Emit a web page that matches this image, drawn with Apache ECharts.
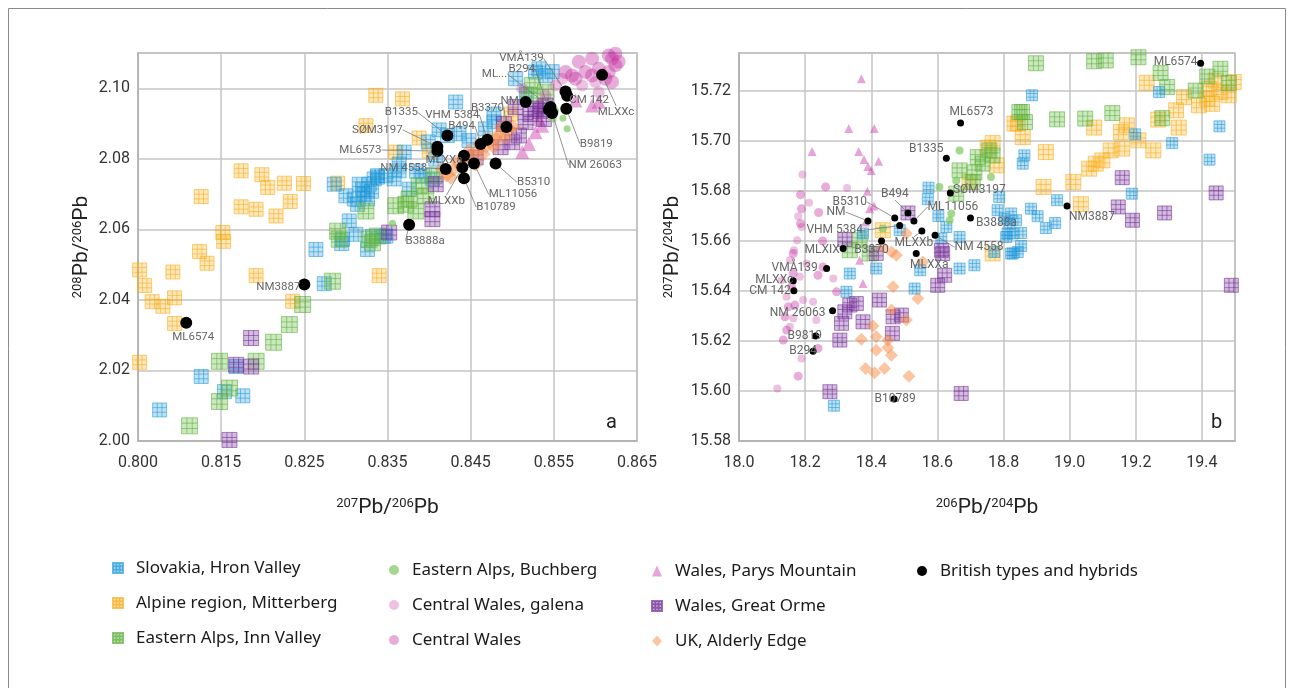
<!DOCTYPE html>
<html>
<head>
<meta charset="utf-8">
<script src="https://cdn.jsdelivr.net/npm/echarts@6/dist/echarts.min.js"></script>
<style>
html, body { margin: 0; background: #fff; }
#chart { width: 1294px; height: 688px; }
</style>
</head>
<body>
<div id="chart"></div>
<script>
// ---- panel a : 208Pb/206Pb vs 207Pb/206Pb ----
var slovakiaA = [[0.8286,2.0728],[0.8300,2.0695],[0.8320,2.0714],[0.8328,2.0728],[0.8334,2.0743],[0.8322,2.0700],[0.8338,2.0748],[0.8310,2.0686],[0.8316,2.0728],[0.8326,2.0686],[0.8331,2.0708],[0.8314,2.0671],[0.8338,2.0752],[0.8304,2.0624],[0.8296,2.0572],[0.8326,2.0543],[0.8264,2.0543],[0.8295,2.0560],[0.8274,2.0446],[0.8126,2.0183],[0.8154,2.0140],[0.8176,2.0128],[0.8076,2.0088],[0.8168,2.0211],[0.8348,2.0581],[0.8348,2.0752],[0.8364,2.0766],[0.8392,2.0752],[0.8408,2.0799],[0.8432,2.0961],[0.8478,2.0927],[0.8478,2.0905],[0.8436,2.0871],[0.8422,2.0866],[0.8448,2.0852],[0.8468,2.0885],[0.8504,2.1027],[0.8528,2.1046],[0.8532,2.1055],[0.8548,2.1047],[0.8540,2.1036],[0.8517,2.0984],[0.8399,2.0848],[0.8412,2.0882],[0.8370,2.0819],[0.8364,2.0785],[0.8385,2.0765],[0.8358,2.0743],[0.8404,2.0743],[0.8376,2.0714],[0.8312,2.0586],[0.8345,2.0580],[0.8332,2.0580]];
var mitterbergA = [[0.8336,2.0980],[0.8324,2.0894],[0.8174,2.0766],[0.8199,2.0755],[0.8206,2.0719],[0.8226,2.0731],[0.8249,2.0730],[0.8290,2.0731],[0.8126,2.0693],[0.8174,2.0664],[0.8192,2.0657],[0.8216,2.0638],[0.8233,2.0679],[0.8152,2.0591],[0.8153,2.0566],[0.8124,2.0537],[0.8133,2.0504],[0.8052,2.0485],[0.8092,2.0479],[0.8192,2.0469],[0.8058,2.0441],[0.8067,2.0395],[0.8080,2.0382],[0.8094,2.0406],[0.8094,2.0333],[0.8052,2.0223],[0.8236,2.0396],[0.8340,2.0469],[0.8368,2.0970],[0.8388,2.0859],[0.8360,2.0819],[0.8498,2.0927],[0.8400,2.0823]];
var innValleyA = [[0.8324,2.0652],[0.8328,2.0572],[0.8338,2.0581],[0.8284,2.0453],[0.8248,2.0387],[0.8232,2.0330],[0.8213,2.0280],[0.8148,2.0226],[0.8192,2.0226],[0.8160,2.0150],[0.8148,2.0112],[0.8112,2.0043],[0.8332,2.0562],[0.8360,2.0667],[0.8372,2.0671],[0.8384,2.0652],[0.8396,2.0695],[0.8388,2.0723],[0.8406,2.0752],[0.8376,2.0686],[0.8524,2.1008],[0.8540,2.0989],[0.8520,2.0980],[0.8292,2.0572],[0.8290,2.0595]];
var buchbergA = [[0.8549,2.0913],[0.8561,2.0915],[0.8566,2.0885],[0.8552,2.0937],[0.8356,2.0617]];
var galenaA = [[0.8512,2.0999],[0.8532,2.0951],[0.8540,2.0980],[0.8552,2.1008],[0.8560,2.1027],[0.8604,2.0989],[0.8584,2.1008],[0.8600,2.1018]];
var centralWalesA = [[0.8580,2.1075],[0.8596,2.1084],[0.8616,2.1093],[0.8620,2.1084],[0.8604,2.1055],[0.8624,2.1065],[0.8588,2.1046],[0.8572,2.1036],[0.8612,2.1027],[0.8576,2.1027],[0.8616,2.1046],[0.8596,2.1036],[0.8564,2.1046],[0.8620,2.1018],[0.8628,2.1075],[0.8624,2.1098]];
var parysA = [[0.8596,2.0951],[0.8576,2.0965],[0.8536,2.0894],[0.8528,2.0875],[0.8512,2.0819],[0.8520,2.0842],[0.8532,2.0913],[0.8604,2.0962]];
var greatOrmeA = [[0.8528,2.0942],[0.8516,2.0904],[0.8508,2.0866],[0.8500,2.0847],[0.8486,2.0833],[0.8522,2.0927],[0.8540,2.0951],[0.8504,2.0947],[0.8408,2.0728],[0.8404,2.0657],[0.8404,2.0629],[0.8352,2.0591],[0.8456,2.0804],[0.8186,2.0292],[0.8168,2.0216],[0.8186,2.0211],[0.8160,2.0003],[0.8534,2.0936],[0.8538,2.0913],[0.8490,2.0899]];
var alderlyA = [[0.8421,2.0754],[0.8430,2.0771],[0.8426,2.0748],[0.8439,2.0777],[0.8442,2.0799],[0.8451,2.0799],[0.8448,2.0822],[0.8458,2.0822],[0.8460,2.0842],[0.8469,2.0836],[0.8472,2.0856],[0.8481,2.0856],[0.8484,2.0871],[0.8492,2.0862],[0.8496,2.0885],[0.8501,2.0890],[0.8434,2.0791],[0.8465,2.0814],[0.8478,2.0834],[0.8456,2.0785],[0.8416,2.0771],[0.8487,2.0890]];

// ---- panel b : 207Pb/204Pb vs 206Pb/204Pb ----
var slovakiaB = [[18.573,15.6812],[18.571,15.6766],[18.603,15.6699],[18.627,15.6655],[18.612,15.6609],[18.787,15.6775],[18.782,15.6722],[18.803,15.6689],[18.818,15.6669],[18.828,15.6629],[18.808,15.6615],[18.838,15.6682],[18.823,15.6549],[18.843,15.6555],[18.772,15.6555],[18.667,15.6615],[18.486,15.6642],[18.375,15.6629],[18.886,15.7181],[18.863,15.6941],[18.858,15.6908],[18.823,15.6709],[18.883,15.6728],[18.903,15.6698],[18.928,15.6651],[18.956,15.6671],[18.962,15.6762],[18.853,15.6631],[18.812,15.6629],[18.828,15.6549],[18.853,15.6579],[19.188,15.6788],[19.198,15.7025],[19.310,15.6990],[19.270,15.7194],[19.423,15.6924],[19.453,15.7057],[18.335,15.6469],[18.325,15.6396],[18.531,15.6409],[18.667,15.6489],[18.712,15.6502],[18.287,15.5941],[18.548,15.6482],[18.415,15.6489]];
var mitterbergB = [[18.843,15.7068],[18.858,15.7014],[18.928,15.6954],[18.921,15.6815],[19.011,15.6835],[19.034,15.6746],[19.059,15.6888],[19.079,15.6908],[19.099,15.6921],[19.124,15.6961],[19.159,15.6968],[19.074,15.7052],[19.155,15.7034],[19.173,15.7061],[19.208,15.7001],[19.253,15.6961],[19.268,15.7084],[19.322,15.7121],[19.330,15.7052],[19.346,15.7174],[19.233,15.7231],[19.416,15.7167],[19.421,15.7207],[19.456,15.7194],[19.496,15.7234],[19.431,15.7147],[19.441,15.7240],[18.767,15.6990],[18.752,15.6972],[18.779,15.6901],[18.833,15.7068],[18.697,15.6835],[18.435,15.6642],[18.767,15.6549],[19.391,15.7141],[19.481,15.7181]];
var innValleyB = [[18.898,15.7309],[19.074,15.7317],[19.109,15.7320],[19.208,15.7333],[19.275,15.7270],[19.295,15.7214],[19.381,15.7200],[19.416,15.7256],[19.456,15.7287],[19.481,15.7230],[18.856,15.7114],[18.865,15.7074],[18.962,15.7085],[19.047,15.7088],[19.129,15.7110],[19.280,15.7090],[18.848,15.7114],[18.722,15.6934],[18.767,15.6941],[18.667,15.6881],[18.657,15.6788],[18.707,15.6835],[18.737,15.6908],[18.365,15.6602],[18.335,15.6562],[18.395,15.6549],[18.757,15.6961],[18.712,15.6873]];
var buchbergB = [[18.667,15.6961],[18.606,15.6815],[18.657,15.6841],[18.642,15.6709],[18.762,15.6855],[18.435,15.6649],[18.637,15.6682]];
var galenaB = [[18.192,15.6865],[18.327,15.6811],[18.212,15.6752],[18.179,15.6698],[18.189,15.6655],[18.176,15.6602],[18.166,15.6562],[18.154,15.6522],[18.184,15.6456],[18.194,15.6363],[18.154,15.6256],[18.189,15.6130],[18.116,15.6010],[18.285,15.6449],[18.224,15.6356],[18.144,15.6376],[18.234,15.6283],[18.204,15.6509],[18.164,15.6290],[18.129,15.6442]];
var centralWalesB = [[18.262,15.6815],[18.186,15.6784],[18.189,15.6728],[18.186,15.6669],[18.241,15.6713],[18.253,15.6599],[18.164,15.6549],[18.164,15.6469],[18.159,15.6416],[18.139,15.6296],[18.134,15.6203],[18.179,15.6059],[18.239,15.6462],[18.295,15.6396],[18.169,15.6343],[18.239,15.6170],[18.254,15.6495],[18.149,15.6336],[18.144,15.6243]];
var parysB = [[18.370,15.7247],[18.332,15.7048],[18.409,15.7048],[18.221,15.6957],[18.362,15.6957],[18.378,15.6925],[18.422,15.6918],[18.390,15.6897],[18.400,15.6881],[18.388,15.6798],[18.408,15.6739],[18.395,15.6728],[18.383,15.6675],[18.375,15.6429],[18.365,15.6522]];
var greatOrmeB = [[18.616,15.6549],[18.622,15.6462],[18.601,15.6422],[18.425,15.6363],[18.355,15.6349],[18.320,15.6316],[18.310,15.6270],[18.375,15.6276],[18.305,15.6203],[18.466,15.6296],[18.491,15.6303],[18.464,15.6230],[18.275,15.5997],[18.672,15.5990],[18.511,15.6711],[18.612,15.6562],[18.320,15.6605],[18.415,15.6549],[19.159,15.6852],[19.147,15.6735],[19.190,15.6682],[19.287,15.6711],[19.443,15.6791],[19.489,15.6422],[18.335,15.6343]];
var alderlyB = [[18.466,15.6416],[18.541,15.6369],[18.405,15.6259],[18.370,15.6206],[18.415,15.6216],[18.450,15.6174],[18.461,15.6143],[18.415,15.6163],[18.450,15.6203],[18.383,15.6090],[18.440,15.6090],[18.410,15.6073],[18.514,15.6059],[18.506,15.6283],[18.461,15.6323],[18.476,15.6542],[18.461,15.6555],[18.556,15.6515],[18.506,15.6629],[18.435,15.6575]];

// ---- British types and hybrids ----
var britishNames = ['ML6574','ML6573','B1335','SØM3197','B5310','B494','NM','ML11056','B3888a','VHM 5384','MLXXb','NM 4558','MLXIX','B3370','MLXXa','VMÅ139','MLXXc','CM 142','NM 26063','B9819','B294','B10789','NM3887'];
var britishLabelsA = ['ML6574','ML6573','B1335','SØM3197','B5310','B494','NM','ML11056','B3888a','VHM 5384','MLXXb','NM 4558','ML...','B3370','MLXXa','VMÅ139','MLXXc','CM 142','NM 26063','B9819','B294','B10789','NM3887'];
var britishA = [[0.8108,2.0335],[0.8410,2.0822],[0.8422,2.0866],[0.8410,2.0834],[0.8480,2.0787],[0.8462,2.0842],[0.8516,2.0961],[0.8454,2.0787],[0.8376,2.0613],[0.8470,2.0854],[0.8440,2.0776],[0.8420,2.0771],[0.8546,2.0947],[0.8493,2.0890],[0.8442,2.0809],[0.8564,2.0991],[0.8608,2.1038],[0.8566,2.0979],[0.8548,2.0930],[0.8565,2.0942],[0.8544,2.0939],[0.8442,2.0745],[0.8250,2.0444]];
var britishB = [[19.396,15.7309],[18.670,15.7070],[18.627,15.6930],[18.639,15.6791],[18.471,15.6691],[18.511,15.6711],[18.390,15.6679],[18.529,15.6679],[18.700,15.6691],[18.486,15.6661],[18.553,15.6639],[18.593,15.6622],[18.315,15.6569],[18.431,15.6599],[18.536,15.6549],[18.265,15.6489],[18.164,15.6440],[18.166,15.6400],[18.283,15.6320],[18.232,15.6219],[18.224,15.6159],[18.469,15.5968],[18.992,15.6739]];

// label offsets (dx, dy, leader line) for the two panels
var labelOffA = [[7,14,0],[-77,-1,1],[-46,-23,1],[-60,-17,1],[38,19,1],[-19,-18,1],[-16,-1,0],[39,31,1],[16,16,1],[-35,-25,1],[-16,34,1],[-42,-1,1],[-56,-33,1],[-19,-19,1],[-20,4,0],[-44,-33,1],[14,37,1],[22,4,0],[43,52,1],[30,35,1],[-27,-41,1],[32,29,1],[-26,3,0]];
var labelOffB = [[-25,-1,0],[11,-11,0],[-20,-9,0],[29,-3,0],[-45,-16,1],[-13,-19,1],[-32,-9,1],[39,-14,1],[26,5,0],[-65,5,1],[-8,12,1],[44,12,1],[-21,1,0],[-10,9,0],[13,11,0],[-32,-1,0],[-19,-1,0],[-24,0,0],[-35,2,0],[-11,0,0],[-10,0,0],[1,0,0],[25,11,0]];

var FONT = 'Roboto, "Noto Sans", sans-serif';
var LEGEND_FONT = '"Noto Sans", Roboto, sans-serif';
var GRIDSQ = 'path://M0 0H12V12H0Z M4 0V12 M8 0V12 M0 4H12 M0 8H12';

var chart = echarts.init(document.getElementById('chart'));

function squares(name, data, idx, size, fill, stroke) {
	return { type: 'scatter', name: name, xAxisIndex: idx, yAxisIndex: idx, data: data, clip: false,
		symbol: GRIDSQ, symbolSize: size,
		itemStyle: { color: fill, borderColor: stroke, borderWidth: 0.8 } };
}
function marks(name, data, idx, symbol, size, fill) {
	return { type: 'scatter', name: name, xAxisIndex: idx, yAxisIndex: idx, data: data, clip: false,
		symbol: symbol, symbolSize: size, itemStyle: { color: fill } };
}
function british(values, labels, offs, idx, size, fontSize) {
	return {
		type: 'scatter', name: 'British types and hybrids', xAxisIndex: idx, yAxisIndex: idx, clip: false, z: 5,
		symbol: 'circle', symbolSize: size, itemStyle: { color: '#000', opacity: 1 },
		data: values.map(function(v, i) {
			return { value: v, name: britishNames[i], labelLine: { show: !!offs[i][2] } };
		}),
		label: { show: true, position: 'inside', color: '#666', fontSize: fontSize, fontFamily: FONT,
			formatter: function(p) { return labels[p.dataIndex]; } },
		labelLine: { show: true, lineStyle: { color: '#777', width: 0.8 } },
		labelLayout: function(p) { return { dx: offs[p.dataIndex][0], dy: offs[p.dataIndex][1] }; }
	};
}

var blueF = 'rgba(40,158,218,0.38)', blueS = 'rgba(30,150,215,0.85)';
var yelF = 'rgba(252,184,40,0.40)', yelS = 'rgba(245,168,20,0.85)';
var grnF = 'rgba(110,190,75,0.45)', grnS = 'rgba(88,172,58,0.85)';
var purF = 'rgba(125,55,160,0.42)', purS = 'rgba(110,40,145,0.85)';
var pinkC = 'rgba(196,48,160,0.5)', pinkG = 'rgba(200,70,170,0.42)', pinkT = 'rgba(205,65,175,0.6)';
var orangeD = 'rgba(246,130,55,0.58)', buchC = 'rgba(120,200,90,0.85)';

var names = ['Slovakia, Hron Valley','Alpine region, Mitterberg','Eastern Alps, Inn Valley','Eastern Alps, Buchberg','Central Wales, galena','Central Wales','Wales, Parys Mountain','Wales, Great Orme','UK, Alderly Edge','British types and hybrids'];

var series = [
	squares(names[1], mitterbergA, 0, 14, yelF, yelS),
	squares(names[0], slovakiaA, 0, 14, blueF, blueS),
	squares(names[2], innValleyA, 0, 16, grnF, grnS),
	marks(names[4], galenaA, 0, 'circle', 12, pinkG),
	marks(names[5], centralWalesA, 0, 'circle', 14, pinkC),
	marks(names[6], parysA, 0, 'triangle', 14, pinkT),
	squares(names[7], greatOrmeA, 0, 15, purF, purS),
	marks(names[8], alderlyA, 0, 'diamond', 15, orangeD),
	marks(names[3], buchbergA, 0, 'circle', 7, buchC),
	british(britishA, britishLabelsA, labelOffA, 0, 12, 11.5),

	squares(names[1], mitterbergB, 1, 15, yelF, yelS),
	squares(names[2], innValleyB, 1, 15, grnF, grnS),
	squares(names[0], slovakiaB, 1, 11, blueF, blueS),
	marks(names[4], galenaB, 1, 'circle', 8, pinkG),
	marks(names[5], centralWalesB, 1, 'circle', 9, pinkC),
	marks(names[6], parysB, 1, 'triangle', 9, pinkT),
	squares(names[7], greatOrmeB, 1, 14, purF, purS),
	marks(names[8], alderlyB, 1, 'diamond', 13, orangeD),
	marks(names[3], buchbergB, 1, 'circle', 8, buchC),
	british(britishB, britishNames, labelOffB, 1, 7, 12)
];

var tickLabel = { color: '#333', fontSize: 16, fontFamily: FONT };
var splitLine = { show: true, lineStyle: { color: '#c4c4c4', width: 1.5 } };
var axisLine = { show: true, lineStyle: { color: '#b0b0b0', width: 1.5 } };
var titleRich = {
	b: { fontSize: 21, color: '#222', fontFamily: FONT },
	s: { fontSize: 13, color: '#222', fontFamily: FONT, verticalAlign: 'top' }
};
function pbName(a, b) { return '{s|' + a + '}{b|Pb/}{s|' + b + '}{b|Pb}'; }

function legendCol(left, top, items) {
	return {
		orient: 'vertical', left: left, top: top, itemWidth: 10, itemHeight: 11, itemGap: 15,
		selectedMode: false, data: items,
		textStyle: { fontSize: 17, lineHeight: 20, color: '#1a1a1a', fontFamily: LEGEND_FONT, padding: [0, 0, 0, 8] }
	};
}

chart.setOption({
	animation: false,
	backgroundColor: '#fff',
	grid: [
		{ left: 138, top: 53, width: 499, height: 388, show: true, borderColor: '#b0b0b0', borderWidth: 1.5 },
		{ left: 739, top: 53, width: 496, height: 388, show: true, borderColor: '#b0b0b0', borderWidth: 1.5 }
	],
	xAxis: [
		{ type: 'value', gridIndex: 0, min: 0.805, max: 0.865, interval: 0.01,
			axisLine: axisLine, axisTick: { show: false }, splitLine: splitLine,
			axisLabel: Object.assign({ margin: 14, formatter: function(v) { return (v < 0.81 ? 0.8 : v).toFixed(3); } }, tickLabel),
			name: pbName('207', '206'), nameLocation: 'middle', nameGap: 56, nameTextStyle: { rich: titleRich } },
		{ type: 'value', gridIndex: 1, min: 18.0, max: 19.5, interval: 0.2,
			axisLine: axisLine, axisTick: { show: false }, splitLine: splitLine,
			axisLabel: Object.assign({ margin: 14, showMaxLabel: false, formatter: function(v) { return v.toFixed(1); } }, tickLabel),
			name: pbName('206', '204'), nameLocation: 'middle', nameGap: 56, nameTextStyle: { rich: titleRich } }
	],
	yAxis: [
		{ type: 'value', gridIndex: 0, min: 2.00, max: 2.11, interval: 0.02,
			axisLine: axisLine, axisTick: { show: false }, splitLine: splitLine,
			axisLabel: Object.assign({ margin: 8, showMaxLabel: false, formatter: function(v) { return v.toFixed(2); } }, tickLabel),
			name: pbName('208', '206'), nameLocation: 'middle', nameRotate: 90, nameGap: 46, nameTextStyle: { rich: titleRich } },
		{ type: 'value', gridIndex: 1, min: 15.58, max: 15.735, interval: 0.02,
			axisLine: axisLine, axisTick: { show: false }, splitLine: splitLine,
			axisLabel: Object.assign({ margin: 8, showMaxLabel: false, formatter: function(v) { return v.toFixed(2); } }, tickLabel),
			name: pbName('207', '204'), nameLocation: 'middle', nameRotate: 90, nameGap: 56, nameTextStyle: { rich: titleRich } }
	],
	legend: [
		legendCol(107, 553, [names[0], names[1], names[2]]),
		legendCol(384, 555, [names[3], names[4], names[5]]),
		legendCol(646, 556, [names[6], names[7], names[8]]),
		legendCol(912, 556, [names[9]])
	],
	graphic: [
		{ type: 'rect', shape: { x: 8.5, y: 8.5, width: 1277, height: 700 }, style: { fill: 'none', stroke: '#8a8a8a', lineWidth: 1 }, silent: true },
		{ type: 'text', left: 606, top: 413, style: { text: 'a', fontSize: 20, fill: '#222', fontFamily: FONT } },
		{ type: 'text', left: 1211, top: 413, style: { text: 'b', fontSize: 20, fill: '#222', fontFamily: FONT } }
	],
	series: series
});
</script>
</body>
</html>
